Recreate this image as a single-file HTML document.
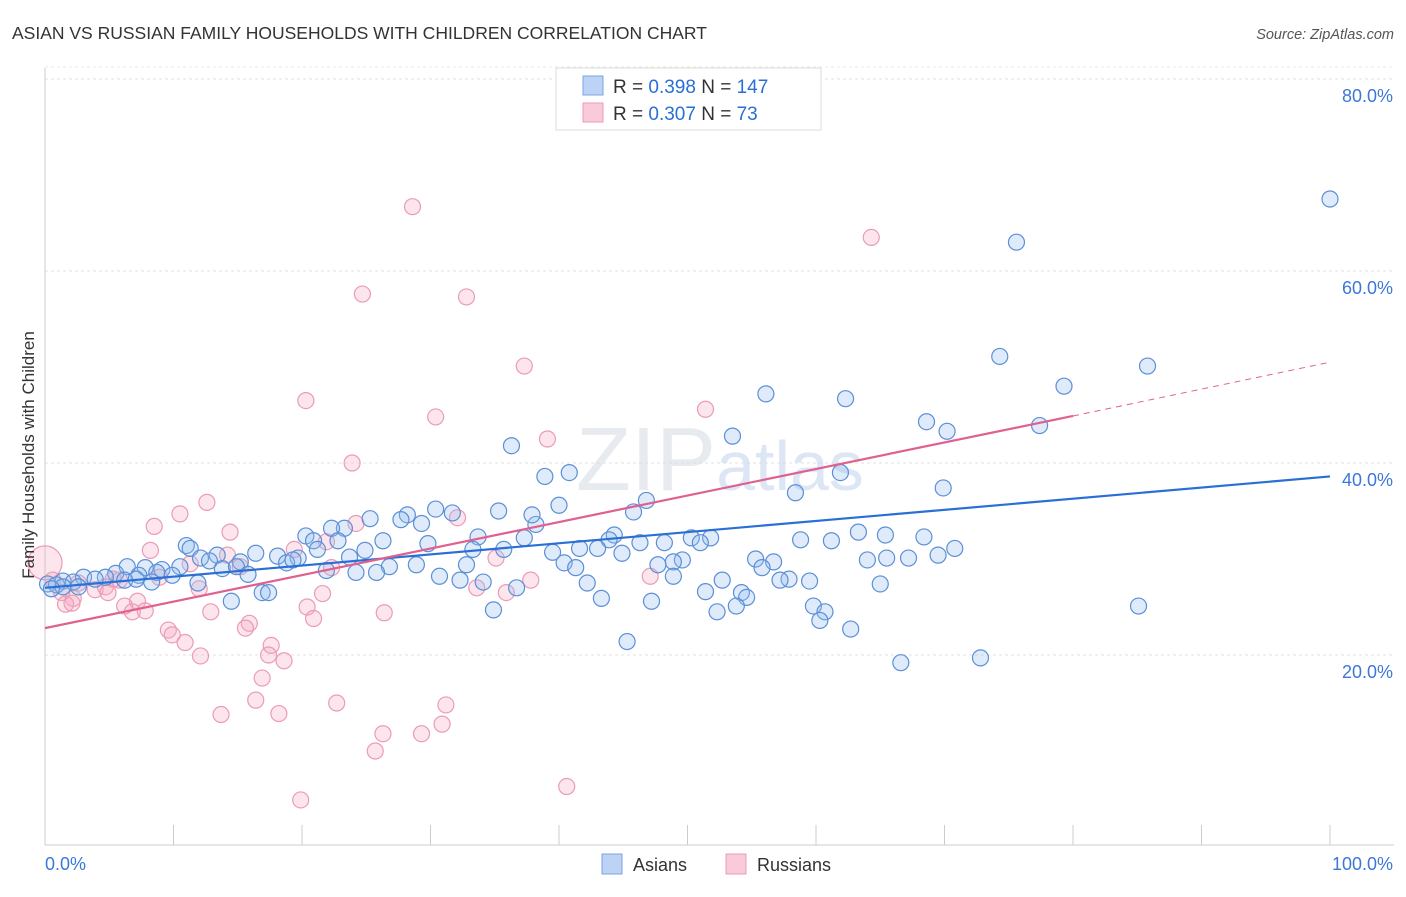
<!DOCTYPE html>
<html><head><meta charset="utf-8"><style>
body{margin:0;background:#fff;font-family:"Liberation Sans",sans-serif;}
svg text{font-family:"Liberation Sans",sans-serif;}
</style></head><body>
<svg width="1406" height="892" viewBox="0 0 1406 892">
<text x="12" y="39" font-size="17.5" fill="#333">ASIAN VS RUSSIAN FAMILY HOUSEHOLDS WITH CHILDREN CORRELATION CHART</text>
<text x="1394" y="39" font-size="14.5" fill="#555" font-style="italic" text-anchor="end">Source: ZipAtlas.com</text>
<g id="grid"></g>
<g id="axes"></g>
<text x="720" y="490" font-size="90" fill="#d8dde6" text-anchor="middle" font-family="Liberation Serif" opacity="0.6">ZIP<tspan fill="#c5d6ee" font-family="Liberation Sans" font-size="70">atlas</tspan></text>
<g id="pts"></g>
<g id="trends"></g>
<text transform="translate(34,455) rotate(-90)" font-size="17" fill="#333" text-anchor="middle">Family Households with Children</text>
<g>
<rect x="556" y="68" width="265" height="62" fill="#fff" stroke="#ddd"/>
<rect x="583" y="76" width="20" height="19" fill="#bcd3f5" stroke="#7aa5e0"/>
<rect x="583" y="103" width="20" height="19" fill="#f9cad8" stroke="#eb9bb6"/>
<text x="613" y="93" font-size="19" fill="#333">R = <tspan fill="#2a6fd6">0.398</tspan>   N = <tspan fill="#2a6fd6">147</tspan></text>
<text x="613" y="120" font-size="19" fill="#333">R = <tspan fill="#2a6fd6">0.307</tspan>   N =   <tspan fill="#2a6fd6">73</tspan></text>
</g>
<g>
<rect x="602" y="854" width="20" height="20" fill="#bcd3f5" stroke="#7aa5e0"/>
<text x="633" y="871" font-size="18" fill="#333">Asians</text>
<rect x="726" y="854" width="20" height="20" fill="#f9cad8" stroke="#eb9bb6"/>
<text x="757" y="871" font-size="18" fill="#333">Russians</text>
</g>
</svg>
<script>
const yTicks=[20,40,60,80];
const yTickLabels=["20.0%","40.0%","60.0%","80.0%"];
const xTicks=[0,10,20,30,40,50,60,70,80,90,100];
const xEndLabels=["0.0%","100.0%"];
const asianX=[100,75.6,74.3,85.8,79.3,56.1,62.3,68.6,77.4,70.2,53.5,36.3,61.9,40.8,38.9,69.9,58.4,46.8,40.0,45.8,35.3,30.4,31.7,28.2,27.7,25.3,29.3,23.3,22.3,38.2,37.9,20.3,20.9,22.8,26.3,29.8,33.7,37.3,44.3,43.9,50.3,51.8,51.0,58.8,63.3,65.4,68.4,61.2,46.3,48.2,11.0,11.3,21.2,24.9,33.3,35.7,41.6,43.0,70.8,16.4,13.4,12.1,18.1,19.7,23.7,39.5,44.9,69.5,67.2,65.5,64.0,55.3,56.7,49.6,48.9,18.8,19.3,12.8,15.2,32.8,40.4,41.3,47.7,55.8,6.4,7.8,10.5,13.8,14.9,26.8,28.9,9.1,21.9,24.2,25.8,5.5,8.7,15.8,7.3,9.9,4.7,3.0,30.7,48.9,3.9,6.2,7.1,8.3,32.3,52.7,57.9,57.2,59.5,1.4,2.2,0.2,0.9,11.9,34.1,42.2,65.0,1.4,2.6,36.7,0.5,51.4,54.2,54.6,16.9,17.4,43.3,14.5,47.2,53.8,59.8,85.1,52.3,60.7,34.9,60.3,62.7,45.3,72.8,66.6];
const asianY=[67.5,63.0,51.1,50.1,48.0,47.2,46.7,44.3,43.9,43.3,42.8,41.8,39.0,39.0,38.6,37.4,36.9,36.1,35.6,34.9,35.0,35.2,34.8,34.6,34.1,34.2,33.7,33.2,33.2,33.6,34.6,32.4,31.9,31.9,31.9,31.6,32.3,32.2,32.5,32.0,32.2,32.2,31.7,32.0,32.8,32.5,32.3,31.9,31.7,31.7,31.4,31.1,31.0,30.9,31.0,31.0,31.1,31.1,31.1,30.6,30.4,30.1,30.3,30.1,30.2,30.7,30.6,30.4,30.1,30.1,29.9,30.0,29.7,29.9,29.7,29.6,29.9,29.8,29.7,29.4,29.6,29.1,29.4,29.1,29.2,29.1,29.2,29.0,29.2,29.2,29.4,28.9,28.8,28.6,28.6,28.5,28.6,28.4,28.3,28.3,28.1,28.1,28.2,28.2,27.9,27.8,27.9,27.6,27.8,27.8,27.9,27.8,27.7,27.7,27.6,27.4,27.3,27.5,27.6,27.5,27.4,27.1,27.1,27.0,26.9,26.6,26.5,26.0,26.5,26.5,25.9,25.6,25.6,25.1,25.1,25.1,24.5,24.5,24.7,23.6,22.7,21.4,19.7,19.2];
const rusX=[28.6,64.3,24.7,32.8,37.3,20.3,51.4,30.4,39.1,23.9,12.6,10.5,32.1,24.2,8.5,14.4,21.9,19.4,8.2,14.2,35.1,11.3,15.2,22.3,8.9,47.1,37.8,5.3,5.8,0.6,2.6,3.9,4.7,1.3,12.0,4.9,33.6,35.9,21.6,2.2,1.6,7.2,2.1,6.2,20.4,6.8,7.8,12.9,26.4,20.9,15.9,15.6,9.6,9.9,10.9,17.6,12.1,17.4,18.6,16.9,16.4,22.7,31.2,13.7,18.2,30.9,26.3,29.3,25.7,40.6,19.9];
const rusY=[66.7,63.5,57.6,57.3,50.1,46.5,45.6,44.8,42.5,40.0,35.9,34.7,34.3,33.7,33.4,32.8,31.8,31.0,30.9,30.4,30.1,29.5,29.2,29.1,28.1,28.2,27.8,27.9,27.8,27.8,27.5,26.8,27.1,26.5,26.9,26.5,27.0,26.5,26.4,25.9,25.3,25.6,25.4,25.1,25.0,24.5,24.6,24.5,24.4,23.8,23.3,22.8,22.6,22.1,21.3,21.0,19.9,20.0,19.4,17.6,15.3,15.0,14.8,13.8,13.9,12.8,11.8,11.8,10.0,6.3,4.9];
const bigRus=[0,29.6];
const asianTrend=[[0,27.0],[100,38.6]];
const rusTrend=[[0,22.8],[80,44.9],[100,50.5]];
const NS='http://www.w3.org/2000/svg';
const X=v=>45+v*12.85, Y=v=>847-v*9.6;
function mk(tag,at,parent){const e=document.createElementNS(NS,tag);for(const k in at)e.setAttribute(k,at[k]);parent.appendChild(e);return e;}
const grid=document.getElementById('grid'),axes=document.getElementById('axes'),pts=document.getElementById('pts'),tr=document.getElementById('trends');
yTicks.forEach((t,i)=>{
 const l=mk('line',{x1:45,x2:1394,y1:Y(t),y2:Y(t),stroke:'#e2e2e2','stroke-dasharray':'3,3'},grid);
 
 
 const tx=mk('text',{x:1393,y:Y(t)+23,'font-size':18,fill:'#3b78d8','text-anchor':'end'},axes);
 tx.textContent=yTickLabels[i];
 
 
});
mk('line',{x1:45,x2:1394,y1:Y(80)-12,y2:Y(80)-12,stroke:'#e8e8e8','stroke-dasharray':'3,3'},grid);
mk('line',{x1:45,x2:45,y1:68,y2:845,stroke:'#ccc'},axes);
mk('line',{x1:45,x2:1394,y1:845,y2:845,stroke:'#ccc'},axes);
xTicks.forEach(t=>{
 const l=mk('line',{x1:X(t),x2:X(t),y1:825,y2:845,stroke:'#ccc'},axes);
 
 
});
const xl0=mk('text',{x:45,y:870,'font-size':18,fill:'#3b78d8'},axes);xl0.textContent=xEndLabels[0];


const xl1=mk('text',{x:1393,y:870,'font-size':18,fill:'#3b78d8','text-anchor':'end'},axes);xl1.textContent=xEndLabels[1];


rusX.forEach((x,i)=>{
 const c=mk('circle',{cx:X(x),cy:Y(rusY[i]),r:8,fill:'rgba(245,170,195,0.3)',stroke:'#eb9bb6','stroke-width':1.2},pts);
 
 
});
const bc=mk('circle',{cx:X(bigRus[0]),cy:Y(bigRus[1]),r:17,fill:'rgba(245,170,195,0.3)',stroke:'#eb9bb6','stroke-width':1.2},pts);


asianX.forEach((x,i)=>{
 const c=mk('circle',{cx:X(x),cy:Y(asianY[i]),r:8,fill:'rgba(150,190,240,0.3)',stroke:'#5b8fd6','stroke-width':1.2},pts);
 
 
});
const a=mk('line',{x1:X(asianTrend[0][0]),y1:Y(asianTrend[0][1]),x2:X(asianTrend[1][0]),y2:Y(asianTrend[1][1]),stroke:'#2a6fd6','stroke-width':2.2},tr);


const r1=mk('line',{x1:X(rusTrend[0][0]),y1:Y(rusTrend[0][1]),x2:X(rusTrend[1][0]),y2:Y(rusTrend[1][1]),stroke:'#e0608f','stroke-width':2.2},tr);


const r2=mk('line',{x1:X(rusTrend[1][0]),y1:Y(rusTrend[1][1]),x2:X(rusTrend[2][0]),y2:Y(rusTrend[2][1]),stroke:'#e0608f','stroke-width':1,'stroke-dasharray':'6,5'},tr);


</script>
</body></html>
